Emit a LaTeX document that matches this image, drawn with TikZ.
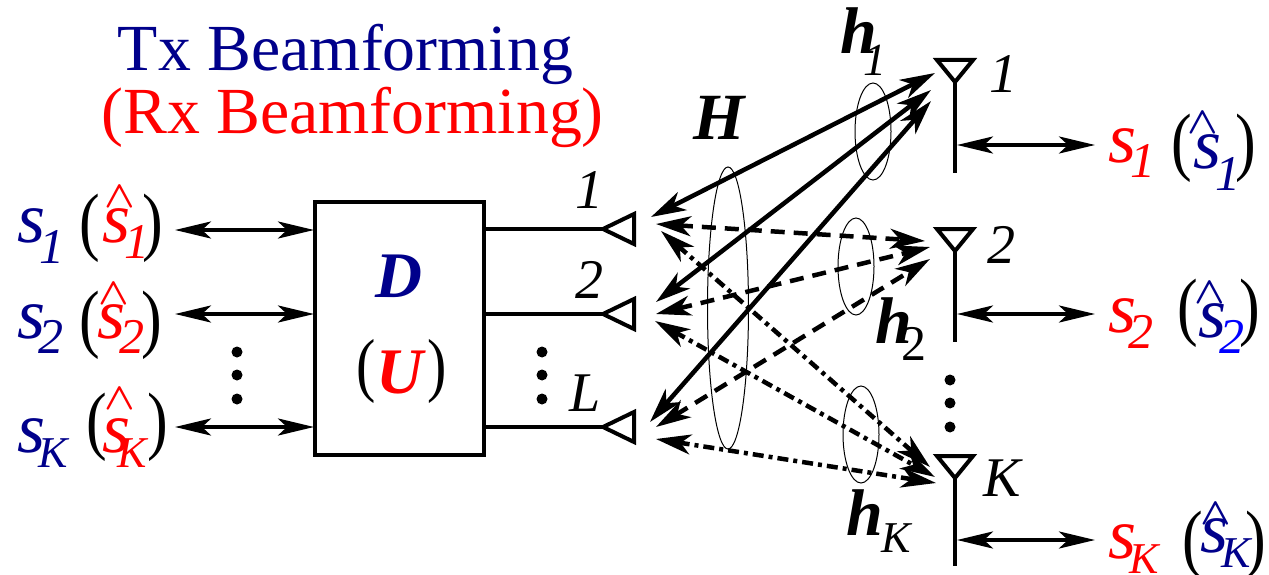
\documentclass[tikz,border=0pt]{standalone}
\usepackage{fontspec}
\setmainfont{Liberation Serif}
\usetikzlibrary{arrows.meta}
\definecolor{navy}{RGB}{0,0,139}
\definecolor{rd}{RGB}{255,0,0}
\newcommand{\fsz}[1]{\fontsize{#1}{#1}\selectfont}
% signal: colour, kern, drop, subscript
\newcommand{\sigl}[4]{{\color{#1}\fsz{72}\itshape s\hspace{#2pt}\raisebox{-#3pt}{\fsz{50}#4}}}
\newcommand{\subk}{\fsz{44}K}
\newcommand{\tall}[1]{\scalebox{1.0}[1.22]{#1}}
\tikzset{
 txt/.style={inner sep=0pt,outer sep=0pt,anchor=base west},
 itl/.style={txt,font=\fsz{56}\itshape},
 bold/.style={txt,font=\fsz{66}\bfseries\itshape},
 title/.style={inner sep=0pt,anchor=base,font=\fsz{65.8}},
 brk/.style={inner sep=0pt,outer sep=0pt,anchor=center,font=\fsz{62}},
 brku/.style={inner sep=0pt,outer sep=0pt,anchor=center,font=\fsz{58}},
 hatm/.style={inner sep=0pt,outer sep=0pt,anchor=center},
 wire/.style={line width=4pt,line cap=butt},
 thin ell/.style={draw,line width=1pt},
 ant/.style={line width=4pt,line join=miter,draw},
 dbl/.style={line width=4pt,{Stealth[length=36pt,width=17pt,inset=9pt]}-{Stealth[length=36pt,width=17pt,inset=9pt]}},
 link/.style={line width=4.5pt,{Stealth[length=35pt,width=20pt,inset=10pt]}-{Stealth[length=35pt,width=20pt,inset=10pt]}},
 dashlink/.style={link,dash pattern=on 14pt off 9pt},
 dotlink/.style={link,dash pattern=on 11pt off 5pt on 4pt off 5pt},
 dotmark/.style={circle,fill=black,inner sep=0pt,minimum size=11pt},
}
% hat: a bold wedge scaled to the reference's chevron; its node sits at the chevron's centre
\newcommand{\hatg}{\scalebox{4}[3.8]{\boldmath$\wedge$}}
\begin{document}
\begin{tikzpicture}[x=1pt,y=-1pt]
\path[use as bounding box,fill=white] (0,0) rectangle (1269,575);
% titles
\node[title,text=navy] (t1) at (345.5,71) {Tx Beamforming};
\node[title,text=rd] (t2) at (352.5,134) {(Rx Beamforming)};
% box
\node[draw,line width=4pt,outer sep=0pt,minimum width=169pt,minimum height=253pt,inner sep=0pt,anchor=north west] (box) at (315,202) {};
\node[txt,font=\fsz{65}\bfseries\itshape,text=navy] (dl) at (375,297) {D};
\node[brku] (ula) at (366,371) {\tall{(}};
\node[brku] (ulb) at (437,371) {\tall{)}};
\node[txt,font=\fsz{65}\bfseries\itshape,text=rd] (ul) at (376,393) {U};
% left signals
\node[txt] (s1) at (17,242) {\sigl{navy}{-6}{21}{1}};
\node[brk] (p1a) at (90,228) {\tall{(}};
\node[txt] (hs1) at (102,242) {\sigl{rd}{-6}{16}{1}};
\node[hatm,text=rd] (hh1) at (119.5,197) {\hatg};
\node[brk] (p1b) at (153,228) {\tall{)}};
\node[txt] (s2) at (17,338) {\sigl{navy}{-7}{15}{2}};
\node[brk] (p2a) at (90,325) {\tall{(}};
\node[txt] (hs2) at (97,338) {\sigl{rd}{-6}{15}{2}};
\node[hatm,text=rd] (hh2) at (113.5,293.5) {\hatg};
\node[brk] (p2b) at (152,325) {\tall{)}};
\node[txt] (sk) at (17,452) {\sigl{navy}{-7}{15}{\subk}};
\node[brk] (pka) at (97,427) {\tall{(}};
\node[txt] (hsk) at (102,452) {\sigl{rd}{-13}{15}{\subk}};
\node[hatm,text=rd] (hhk) at (119.5,398.5) {\hatg};
\node[brk] (pkb) at (158,427) {\tall{)}};
% left arrow ends
\coordinate (a1) at (175,230); \coordinate (b1) at (314,230);
\coordinate (a2) at (175,314); \coordinate (b2) at (314,314);
\coordinate (a3) at (175,427); \coordinate (b3) at (314,427);
\draw[dbl] (a1) -- (b1);
\draw[dbl] (a2) -- (b2);
\draw[dbl] (a3) -- (b3);
\node[dotmark] (d1) at (237,352) {};
\node[dotmark] (d2) at (237,375) {};
\node[dotmark] (d3) at (237,399) {};
% tx antennas
\coordinate (l1) at (603,229); \coordinate (l2) at (603,314); \coordinate (l3) at (603,427);
\coordinate (w1) at (485,229); \coordinate (w2) at (485,314); \coordinate (w3) at (485,427);
\draw[wire] (w1) -- (l1);
\draw[wire] (w2) -- (l2);
\draw[wire] (w3) -- (l3);
\draw[ant] (l1) -- ++(31,-15) -- ++(0,30) -- cycle;
\draw[ant] (l2) -- ++(31,-15) -- ++(0,30) -- cycle;
\draw[ant] (l3) -- ++(31,-15) -- ++(0,30) -- cycle;
\node[itl] (n1) at (575,208) {1};
\node[itl] (n2) at (575,298) {2};
\node[itl] (nl) at (569,411) {L};
\node[dotmark] (m1) at (542,352) {};
\node[dotmark] (m2) at (542,375) {};
\node[dotmark] (m3) at (542,399) {};
% rx antennas
\coordinate (r1) at (955,82); \coordinate (r2) at (955,251); \coordinate (r3) at (955,478);
\draw[ant] (r1) -- ++(-18,-22) -- ++(36,0) -- cycle;
\draw[ant] (r2) -- ++(-18,-22) -- ++(36,0) -- cycle;
\draw[ant] (r3) -- ++(-18,-22) -- ++(36,0) -- cycle;
\coordinate (e1) at (955,173); \coordinate (e2) at (955,342); \coordinate (e3) at (955,566);
\draw[wire] (r1) -- (e1);
\draw[wire] (r2) -- (e2);
\draw[wire] (r3) -- (e3);
\node[itl] (m1a) at (989,93) {1};
\node[itl] (m2a) at (987,263) {2};
\node[itl] (mka) at (983,496) {K};
\node[dotmark] (q1) at (950,380) {};
\node[dotmark] (q2) at (950,403) {};
\node[dotmark] (q3) at (950,427) {};
% rx arrows
\coordinate (c1) at (957,145); \coordinate (f1) at (1095,145);
\coordinate (c2) at (957,314); \coordinate (f2) at (1095,314);
\coordinate (c3) at (957,540); \coordinate (f3) at (1095,540);
\draw[dbl] (c1) -- (f1);
\draw[dbl] (c2) -- (f2);
\draw[dbl] (c3) -- (f3);
% right signals
\node[txt] (o1) at (1108,162) {\sigl{rd}{-6}{16}{1}};
\node[brk] (g1a) at (1182,148.5) {\tall{(}};
\node[txt] (hr1) at (1193,168) {\sigl{navy}{-6}{22}{1}};
\node[hatm,text=navy] (hg1) at (1203,123) {\hatg};
\node[brk] (g1b) at (1246,148.5) {\tall{)}};
\node[txt] (o2) at (1108,332) {\sigl{rd}{-8}{16}{2}};
\node[brk] (g2a) at (1188,313.5) {\tall{(}};
\node[txt] (hr2) at (1198,337) {\sigl{navy}{-7}{16}{\textcolor{blue}{2}}};
\node[hatm,text=navy] (hg2) at (1209.5,293) {\hatg};
\node[brk] (g2b) at (1250,313.5) {\tall{)}};
\node[txt] (o3) at (1108,558) {\sigl{rd}{-7}{15}{\subk}};
\node[brk] (g3a) at (1193,545) {\tall{(}};
\node[txt] (hr3) at (1200,552) {\sigl{navy}{-7}{15}{\subk}};
\node[hatm,text=navy] (hg3) at (1216,513.5) {\hatg};
\node[brk] (g3b) at (1256,545) {\tall{)}};
% links
\coordinate (x11) at (651,217); \coordinate (y11) at (935,73);
\coordinate (x21) at (656,302); \coordinate (y21) at (931,90);
\coordinate (x31) at (650,422); \coordinate (y31) at (931,101);
\coordinate (x12) at (656,224); \coordinate (y12) at (925,241);
\coordinate (x22) at (656,314); \coordinate (y22) at (930,247);
\coordinate (x32) at (656,427); \coordinate (y32) at (930,259);
\coordinate (x13) at (661,231); \coordinate (y13) at (930,467);
\coordinate (x23) at (655,321); \coordinate (y23) at (935,477);
\coordinate (x33) at (656,439); \coordinate (y33) at (936,483);
\draw[link] (x11) -- (y11);
\draw[link] (x21) -- (y21);
\draw[link] (x31) -- (y31);
\draw[dashlink] (x12) -- (y12);
\draw[dashlink] (x22) -- (y22);
\draw[dashlink] (x32) -- (y32);
\draw[dotlink] (x13) -- (y13);
\draw[dotlink] (x23) -- (y23);
\draw[dotlink] (x33) -- (y33);
% ellipses
\draw[thin ell] (728,308) ellipse [x radius=20.5,y radius=141];
\draw[thin ell] (873,131.5) ellipse [x radius=18,y radius=48.5];
\draw[thin ell] (856,266.5) ellipse [x radius=18,y radius=48.5];
\draw[thin ell] (861,434.5) ellipse [x radius=18,y radius=48.5];
% labels
\node[bold] (hh) at (693,140) {H};
\node[bold] (h1) at (840,54) {h\hspace{-13pt}\raisebox{-22pt}{\fsz{46}\mdseries 1}};
\node[bold] (h2) at (875,343) {h\hspace{-10pt}\raisebox{-17pt}{\fsz{50}\upshape\mdseries 2}};
\node[bold] (hk) at (846,535) {h\hspace{-1pt}\raisebox{-17pt}{\fsz{44}\mdseries K}};
\end{tikzpicture}
\end{document}
